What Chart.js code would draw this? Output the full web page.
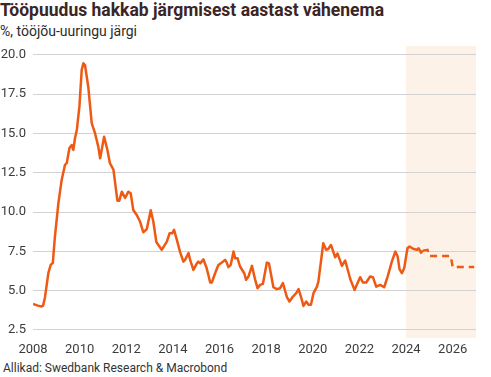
<!DOCTYPE html>
<html>
<head>
<meta charset="utf-8">
<script src="https://cdn.jsdelivr.net/npm/chart.js@4"></script>
<style>
    body { margin: 0; background: #fff; width: 491px; height: 377px; overflow: hidden; position: relative; font-family: Roboto, sans-serif; }
    #title { position: absolute; left: 0; top: 0; font-size: 17.5px; font-weight: 700; color: #3a2527; white-space: nowrap; }
    #subtitle { position: absolute; left: 0; top: 23px; font-size: 14px; color: #2b2b2b; white-space: nowrap; }
    #source { position: absolute; left: 3px; top: 361px; font-size: 12px; color: #333; white-space: nowrap; }
    #wrap { position: absolute; left: 0; top: 46px; width: 491px; height: 312px; }
</style>
</head>
<body>
<div id="title">Tööpuudus hakkab järgmisest aastast vähenema</div>
<div id="subtitle">%, tööjõu-uuringu järgi</div>
<div id="wrap"><canvas id="chart"></canvas></div>
<div id="source">Allikad: Swedbank Research &amp; Macrobond</div>
<script>
// Unemployment rate, % (decimal years)
const dates = [
    2008.00, 2008.21, 2008.37, 2008.43, 2008.51, 2008.66, 2008.76, 2008.85, 2008.94, 2009.09,
    2009.23, 2009.37, 2009.45, 2009.56, 2009.66, 2009.73, 2009.80, 2009.88, 2009.99, 2010.09,
    2010.16, 2010.23, 2010.37, 2010.52, 2010.66, 2010.80, 2010.88, 2011.05, 2011.19, 2011.30,
    2011.45, 2011.62, 2011.70, 2011.81, 2011.95, 2012.09, 2012.19, 2012.30, 2012.45, 2012.59,
    2012.73, 2012.88, 2013.05, 2013.16, 2013.29, 2013.52, 2013.74, 2013.86, 2013.97, 2014.05,
    2014.17, 2014.31, 2014.45, 2014.52, 2014.67, 2014.74, 2014.88, 2015.03, 2015.09, 2015.17,
    2015.31, 2015.45, 2015.60, 2015.67, 2015.81, 2015.95, 2016.10, 2016.24, 2016.31, 2016.38,
    2016.48, 2016.60, 2016.67, 2016.77, 2016.88, 2017.06, 2017.14, 2017.24, 2017.39, 2017.53,
    2017.63, 2017.74, 2017.86, 2018.03, 2018.12, 2018.31, 2018.46, 2018.60, 2018.72, 2018.89,
    2019.00, 2019.15, 2019.29, 2019.39, 2019.49, 2019.60, 2019.72, 2019.82, 2019.92, 2020.03,
    2020.18, 2020.24, 2020.45, 2020.57, 2020.66, 2020.78, 2020.96, 2021.06, 2021.25, 2021.39,
    2021.61, 2021.79, 2022.03, 2022.15, 2022.29, 2022.46, 2022.58, 2022.72, 2022.89, 2023.06,
    2023.21, 2023.39, 2023.54, 2023.64, 2023.72, 2023.82, 2023.92, 2024.06, 2024.15, 2024.32,
    2024.47, 2024.54, 2024.64, 2024.72
];
const rate = [
    4.15, 4.05, 3.99, 4.05, 4.54, 6.13, 6.64, 6.77, 8.44, 10.58,
    12.05, 13.00, 13.13, 14.06, 14.27, 13.96, 14.70, 15.23, 16.71, 19.05,
    19.47, 19.36, 17.98, 15.65, 15.02, 14.17, 13.43, 14.80, 13.96, 13.11,
    12.70, 10.73, 10.73, 11.30, 10.90, 11.30, 11.20, 10.14, 9.82, 9.40,
    8.72, 8.92, 10.12, 9.40, 8.10, 7.60, 8.12, 8.66, 8.65, 8.87,
    8.23, 7.45, 6.85, 6.96, 7.39, 6.96, 6.32, 6.74, 6.85, 6.74,
    6.99, 6.43, 5.52, 5.52, 6.11, 6.64, 6.79, 6.96, 6.79, 6.50,
    6.64, 7.49, 7.07, 7.07, 6.54, 6.11, 5.69, 5.90, 6.58, 5.69,
    5.16, 5.37, 5.43, 6.79, 6.74, 5.22, 5.10, 5.16, 5.48, 4.59,
    4.31, 4.63, 4.84, 5.10, 4.63, 4.03, 4.31, 4.10, 4.10, 4.84,
    5.26, 5.58, 8.02, 7.60, 7.65, 7.91, 7.13, 7.37, 6.58, 6.92,
    5.73, 5.05, 5.86, 5.52, 5.52, 5.90, 5.86, 5.26, 5.37, 5.22,
    5.90, 6.85, 7.49, 7.17, 6.37, 6.11, 6.43, 7.70, 7.81, 7.65,
    7.60, 7.70, 7.42, 7.55
];

// Swedbank forecast (dashed)
const forecastDates = [2024.72, 2024.92, 2025.00, 2025.92, 2026.00, 2026.92];
const forecastRate = [7.55, 7.60, 7.20, 7.20, 6.50, 6.50];

const xTicks = [2008, 2010, 2012, 2014, 2016, 2018, 2020, 2022, 2024, 2026];
const yTicks = [2.5, 5, 7.5, 10, 12.5, 15, 17.5, 20];
const forecastStart = 2024;
const forecastEnd = 2027;

const lineColor = '#ee5a14';
const tickFont = { family: 'Roboto', size: 13 };

const toPoints = (xs, ys) => xs.map((x, i) => ({ x, y: ys[i] }));

// forecast period shading, drawn behind the grid
const shadePlugin = {
    id: 'shade',
    beforeDraw(chart) {
        const { ctx, chartArea, scales } = chart;
        const x0 = scales.x.getPixelForValue(forecastStart);
        const x1 = scales.x.getPixelForValue(forecastEnd);
        ctx.save();
        ctx.fillStyle = '#fdf2e7';
        ctx.fillRect(x0, chartArea.top, x1 - x0, chartArea.bottom - chartArea.top);
        ctx.restore();
    }
};

new Chart(document.getElementById('chart'), {
    type: 'line',
    data: {
        datasets: [{
            label: 'Tööpuudus',
            data: toPoints(dates, rate),
            borderColor: lineColor,
            borderWidth: 2.5,
            pointRadius: 0,
            tension: 0,
            borderJoinStyle: 'round'
        }, {
            label: 'Prognoos',
            data: toPoints(forecastDates, forecastRate),
            borderColor: lineColor,
            borderWidth: 2.5,
            borderDash: [7, 5],
            pointRadius: 0,
            tension: 0
        }]
    },
    options: {
        responsive: true,
        maintainAspectRatio: false,
        animation: false,
        layout: { padding: { top: 0, right: 15, left: 0, bottom: 0 } },
        plugins: { legend: { display: false }, tooltip: { enabled: false } },
        scales: {
            x: {
                type: 'linear',
                min: 2008,
                max: 2027,
                afterBuildTicks: s => { s.ticks = xTicks.map(v => ({ value: v })); },
                afterFit: s => { s.height = 20; },
                grid: { display: false, drawTicks: false },
                border: { display: false },
                ticks: { color: '#3c3c3c', font: tickFont, padding: 4, maxRotation: 0, callback: v => String(v) }
            },
            y: {
                min: 1.99,
                max: 20.57,
                afterBuildTicks: s => { s.ticks = yTicks.map(v => ({ value: v })); },
                // fixed width, and no extra room for the top/bottom labels
                afterFit: s => { s.width = 33; s.paddingTop = 0; s.paddingBottom = 0; },
                grid: { color: '#d2d2d2', lineWidth: 1, drawTicks: false },
                border: { display: false },
                ticks: { color: '#3c3c3c', font: tickFont, padding: 7, callback: v => v.toFixed(1) }
            }
        }
    },
    plugins: [shadePlugin]
});
</script>
</body>
</html>
